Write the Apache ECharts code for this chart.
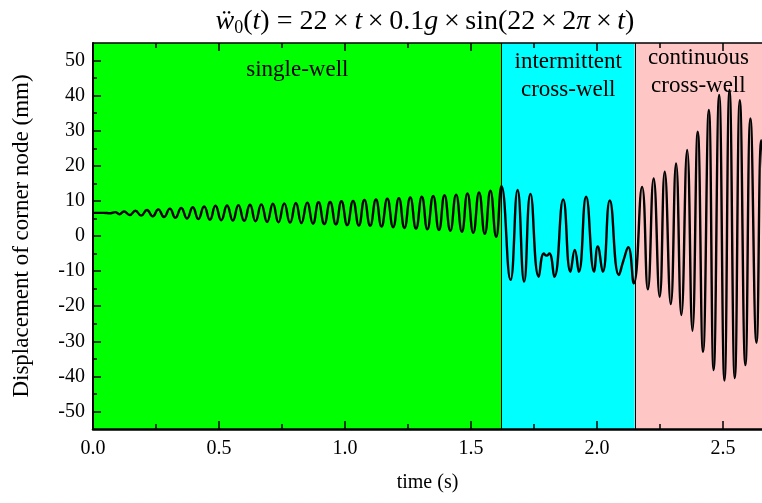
<!DOCTYPE html>
<html><head><meta charset="utf-8">
<script src="https://cdn.jsdelivr.net/npm/echarts@6/dist/echarts.min.js"></script>
<style>html,body{margin:0;padding:0;background:#fff}#c{width:762px;height:503px}</style>
</head><body><div id="c"></div>
<script>
// time (s) of read-off extrema and corresponding displacement (mm)
const timeS = [
  0.000, 0.040, 0.070, 0.088, 0.105, 0.123, 0.146, 0.168, 0.191, 0.214,
  0.237, 0.259, 0.282, 0.305, 0.327, 0.350, 0.373, 0.396, 0.418, 0.441,
  0.464, 0.486, 0.509, 0.532, 0.555, 0.577, 0.600, 0.623, 0.645, 0.668,
  0.691, 0.714, 0.736, 0.759, 0.782, 0.805, 0.827, 0.850, 0.873, 0.895,
  0.918, 0.941, 0.964, 0.986, 1.009, 1.032, 1.055, 1.077, 1.100, 1.123,
  1.145, 1.168, 1.191, 1.214, 1.236, 1.259, 1.282, 1.305, 1.327, 1.350,
  1.373, 1.395, 1.418, 1.441, 1.464, 1.486, 1.509, 1.532, 1.555, 1.577,
  1.600, 1.621,
  1.657, 1.685, 1.711, 1.736, 1.769, 1.789, 1.800, 1.811, 1.831, 1.866,
  1.895, 1.912, 1.928, 1.957, 1.989, 2.003, 2.023, 2.051, 2.087, 2.105,
  2.124, 2.146,
  2.179, 2.202, 2.225, 2.249, 2.269, 2.293, 2.314, 2.335, 2.358, 2.379,
  2.400, 2.421, 2.444, 2.463, 2.485, 2.506, 2.526, 2.547, 2.567, 2.589,
  2.609, 2.633, 2.652, 2.675
];
const dispMM = [
  6.6, 6.6, 6.5, 6.8, 6.2, 7.0, 6.0, 7.2, 5.8, 7.4,
  5.6, 7.6, 5.4, 7.8, 5.2, 8.0, 5.0, 8.2, 4.8, 8.4,
  4.6, 8.6, 4.5, 8.7, 4.4, 8.8, 4.3, 8.9, 4.2, 9.0,
  4.0, 9.2, 3.9, 9.3, 3.8, 9.4, 3.7, 9.5, 3.5, 9.6,
  3.4, 9.7, 3.3, 9.9, 3.1, 10.0, 3.0, 10.3, 2.9, 10.4,
  2.7, 10.6, 2.5, 10.8, 2.3, 11.0, 2.1, 11.2, 1.9, 11.4,
  1.7, 11.6, 1.5, 11.8, 1.2, 12.1, 0.9, 12.4, 0.6, 12.9,
  -0.2, 14.2,
  -12.5, 13.1, -13.0, 12.0, -11.6, -5.0, -5.6, -5.0, -11.6, 10.4,
  -10.2, -4.0, -10.2, 11.2, -10.2, -3.0, -10.2, 10.1, -11.1, -7.0,
  -3.2, -13.5,
  14.0, -15.2, 16.4, -17.3, 18.3, -19.4, 20.7, -22.5, 24.5, -27.0,
  29.7, -33.0, 35.9, -38.2, 40.2, -41.2, 41.6, -40.5, 38.7, -36.8,
  33.5, -30.4, 27.3, -25.0
];
const regionBounds = [0, 1.622, 2.150, 2.655];
const regionNames = ['single-well', 'intermittent\ncross-well', 'continuous\ncross-well'];
const xMajorTicks = [0, 0.5, 1.0, 1.5, 2.0, 2.5];
const xMinorTicks = [0.25, 0.75, 1.25, 1.75, 2.25];
const yMajorTicks = [-50, -40, -30, -20, -10, 0, 10, 20, 30, 40, 50];
const yMinorTicks = [-45, -35, -25, -15, -5, 5, 15, 25, 35, 45];

const FONT = 'Liberation Serif';
const regionColors = ['#00ff00', '#00ffff', '#ffc6c6'];
const regionLabelDist = [13, 5, 1];

const chart = echarts.init(document.getElementById('c'));
const xMin = regionBounds[0], xMax = regionBounds[regionBounds.length - 1];

function xAx(pos, values, len, labels, line) {
  return {
    type: 'value', position: pos, min: xMin, max: xMax, z: 20,
    axisLine: { show: line, onZero: false, lineStyle: { color: '#000', width: pos === 'bottom' ? 2.5 : 1.5 } },
    axisTick: { show: true, inside: true, length: len, customValues: values, lineStyle: { color: '#000', width: 1.5 } },
    axisLabel: labels ? { show: true, customValues: values, formatter: v => v.toFixed(1), color: '#000', fontFamily: FONT, fontSize: 20, margin: 10 } : { show: false },
    splitLine: { show: false }
  };
}
function yAx(values, len, labels, line) {
  return {
    type: 'value', position: 'left', min: -55, max: 55, z: 20,
    axisLine: { show: line, onZero: false, lineStyle: { color: '#000', width: 2 } },
    axisTick: { show: true, inside: true, length: len, customValues: values, lineStyle: { color: '#000', width: 1.5 } },
    axisLabel: labels ? { show: true, customValues: values, formatter: v => String(v), color: '#000', fontFamily: FONT, fontSize: 20, margin: 8 } : { show: false },
    splitLine: { show: false }
  };
}

const xAxes = [
  xAx('bottom', xMajorTicks, 8, true, true),
  xAx('bottom', xMinorTicks, 5, false, false),
  xAx('top', xMajorTicks, 8, false, true),
  xAx('top', xMinorTicks, 5, false, false)
];
Object.assign(xAxes[0], { name: 'time (s)', nameLocation: 'middle', nameGap: 44, nameTextStyle: { color: '#000', fontFamily: FONT, fontSize: 20 } });
const yAxes = [yAx(yMajorTicks, 8, true, true), yAx(yMinorTicks, 4, false, false)];
Object.assign(yAxes[0], { name: 'Displacement of corner node (mm)', nameLocation: 'middle', nameGap: 60, nameTextStyle: { color: '#000', fontFamily: FONT, fontSize: 23 } });

const areaData = regionNames.map((n, i) => [
  { xAxis: regionBounds[i], itemStyle: { color: regionColors[i], opacity: 1, borderWidth: 0 },
    label: { show: true, position: 'insideTop', distance: regionLabelDist[i], formatter: n, color: '#000', fontFamily: FONT, fontSize: 23, lineHeight: 28 } },
  { xAxis: regionBounds[i + 1] }
]);

chart.setOption({
  animation: false,
  backgroundColor: '#fff',
  title: {
    text: '{i|ẅ}{s|0}({i|t}) = 22\u2009×\u2009{i|t}\u2009×\u20090.1{i|g}\u2009×\u2009sin(22\u2009×\u20092{i|π}\u2009×\u2009{i|t})',
    left: 420, top: 2, textAlign: 'center',
    textStyle: {
      fontFamily: FONT, fontSize: 28, fontWeight: 'normal', color: '#000',
      rich: {
        i: { fontFamily: FONT, fontSize: 28, fontStyle: 'italic', color: '#000' },
        s: { fontFamily: FONT, fontSize: 18, color: '#000', padding: [12, 0, 0, 0] }
      }
    }
  },
  grid: { left: 93, right: 0, top: 43, bottom: 74, containLabel: false },
  xAxis: xAxes,
  yAxis: yAxes,
  series: [{
    type: 'line',
    xAxisIndex: 0, yAxisIndex: 0,
    data: timeS.map((t, i) => [t, dispMM[i]]),
    smooth: 0.5,
    showSymbol: false,
    clip: true,
    lineStyle: { color: '#000', width: 2.4 },
    z: 5,
    markArea: { silent: true, data: areaData },
    markLine: {
      silent: true, symbol: 'none', label: { show: false },
      lineStyle: { color: '#000', width: 1, type: 'solid' },
      data: [{ xAxis: regionBounds[1] }, { xAxis: regionBounds[2] }]
    }
  }]
});
</script>
</body></html>
